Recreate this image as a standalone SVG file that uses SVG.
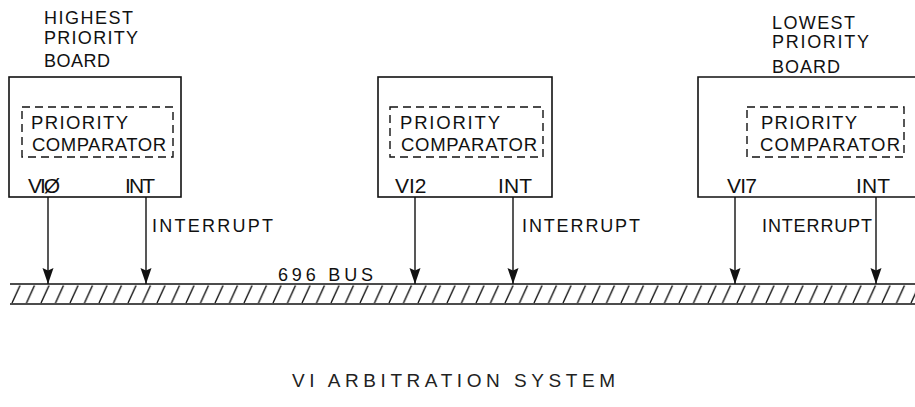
<svg xmlns="http://www.w3.org/2000/svg" width="915" height="407" viewBox="0 0 915 407">
  <style>
    .box { fill: none; stroke: #111; stroke-width: 1.6; }
    .dash { fill: none; stroke: #111; stroke-width: 1.4; stroke-dasharray: 8 5; }
    .t { font-family: "Liberation Sans", Arial, sans-serif; fill: #111; }
    .hdr { font-size: 18px; }
    .in { font-size: 18.5px; }
    .pin { font-size: 21px; }
    .lbl { font-size: 18px; }
    .ttl { font-size: 19px; fill: #222; }
    .wire { stroke: #111; stroke-width: 1.4; fill: none; marker-end: url(#arrow); }
    .busline { stroke: #111; stroke-width: 1.6; }
  </style>
  <defs>
    <marker id="arrow" markerUnits="userSpaceOnUse" markerWidth="17" markerHeight="12" refX="16" refY="6" orient="auto">
      <path d="M0,0.5 L16,6 L0,11.5 L2.5,6 Z" fill="#111"/>
    </marker>
    <pattern id="hatch" patternUnits="userSpaceOnUse" x="11" y="284" width="14.5" height="20">
      <line x1="1" y1="19" x2="9" y2="1.5" stroke="#111" stroke-width="1.4"/>
    </pattern>
  </defs>

  <rect width="915" height="407" fill="#fff"/>

  <g id="board-highest">
    <text class="t hdr" x="44" y="24" textLength="89">HIGHEST</text>
    <text class="t hdr" x="44" y="44" textLength="94">PRIORITY</text>
    <text class="t hdr" x="44" y="67" textLength="66">BOARD</text>
    <rect class="box" x="9" y="77" width="172" height="120"/>
    <rect class="dash" x="22" y="107" width="151" height="50"/>
    <text class="t in" x="31" y="129" textLength="97">PRIORITY</text>
    <text class="t in" x="32" y="151" textLength="134">COMPARATOR</text>
    <text class="t pin" x="28" y="193" textLength="32">VIØ</text>
    <text class="t pin" x="125" y="193" textLength="30">INT</text>
  </g>

  <g id="board-middle">
    <rect class="box" x="378" y="77" width="174" height="120"/>
    <rect class="dash" x="390" y="107" width="153" height="50"/>
    <text class="t in" x="400" y="129" textLength="100">PRIORITY</text>
    <text class="t in" x="401" y="151" textLength="136">COMPARATOR</text>
    <text class="t pin" x="395" y="193">VI2</text>
    <text class="t pin" x="498" y="193" textLength="34">INT</text>
  </g>

  <g id="board-lowest">
    <text class="t hdr" x="772" y="29" textLength="83">LOWEST</text>
    <text class="t hdr" x="772" y="48" textLength="97">PRIORITY</text>
    <text class="t hdr" x="772" y="73" textLength="68">BOARD</text>
    <path class="box" d="M916,77 H698 V197 H916"/>
    <rect class="dash" x="747" y="107" width="157" height="50"/>
    <text class="t in" x="761" y="129" textLength="96">PRIORITY</text>
    <text class="t in" x="760" y="151" textLength="140">COMPARATOR</text>
    <text class="t pin" x="727" y="193" textLength="30">VI7</text>
    <text class="t pin" x="856" y="193" textLength="34">INT</text>
  </g>

  <g id="bus">
    <line class="busline" x1="10" y1="284" x2="915" y2="284"/>
    <line class="busline" x1="10" y1="304" x2="915" y2="304"/>
    <rect x="10" y="284" width="905" height="20" fill="url(#hatch)"/>
    <text class="t lbl" x="278" y="281" textLength="95">696 BUS</text>
  </g>

  <g id="connectors">
    <line class="wire" x1="48" y1="197" x2="48" y2="284"/>
    <line class="wire" x1="146" y1="197" x2="146" y2="284"/>
    <line class="wire" x1="415" y1="197" x2="415" y2="284"/>
    <line class="wire" x1="513" y1="197" x2="513" y2="284"/>
    <line class="wire" x1="735" y1="197" x2="735" y2="284"/>
    <line class="wire" x1="876" y1="197" x2="876" y2="284"/>
    <text class="t lbl" x="152" y="232" textLength="121">INTERRUPT</text>
    <text class="t lbl" x="522" y="232" textLength="118">INTERRUPT</text>
    <text class="t lbl" x="762" y="232" textLength="110">INTERRUPT</text>
  </g>

  <g id="title">
    <text class="t ttl" x="292" y="387" textLength="323">VI ARBITRATION SYSTEM</text>
  </g>
</svg>
